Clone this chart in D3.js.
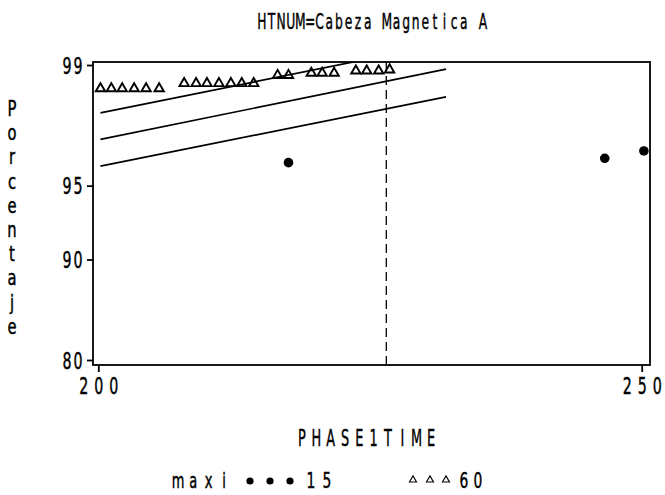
<!DOCTYPE html>
<html>
<head>
<meta charset="utf-8">
<script src="https://cdn.jsdelivr.net/npm/d3@7"></script>
<style>
  html, body { margin: 0; padding: 0; background: #fff; }
  svg { display: block; }
  text { font-family: "DejaVu Sans", "Liberation Sans", sans-serif; fill: #000; stroke: #000; stroke-width: 0.45; }
</style>
</head>
<body>
<svg id="chart" width="665" height="495"></svg>
<script>
// ---- data ----
const titleText = "HTNUM=Cabeza Magnetica A";
const xLabel = "PHASE1TIME";
const yLabel = "Porcentaje";

// maxi = 15 observations
const time15 = [217.5, 246.6, 250.2];
const pct15  = [96.13, 96.32, 96.63];

// maxi = 60 observations
const time60 = [200.2, 201.2, 202.2, 203.3, 204.4, 205.6,
                207.9, 209.0, 210.0, 211.1, 212.2, 213.2, 214.3,
                216.5, 217.5,
                219.6, 220.6, 221.7,
                223.7, 224.7, 225.8, 226.8];
const pct60  = [98.55, 98.55, 98.55, 98.55, 98.55, 98.55,
                98.66, 98.66, 98.66, 98.66, 98.66, 98.66, 98.66,
                98.82, 98.82,
                98.86, 98.86, 98.86,
                98.90, 98.90, 98.90, 98.92];

// fitted line and bounds (percent at both ends of the time span)
const fitTime  = [200.2, 232.0];
const upperPct = [97.94, 99.31];
const fitPct   = [97.08, 98.93];
const lowerPct = [95.97, 98.36];

const refTime = 226.5;             // vertical reference line
const xTicks = [200, 250];
const yTicks = [80, 90, 95, 99];
const legendTitle = "maxi";
const legendLabels = ["15", "60"];

// ---- layout ----
const svg = d3.select("#chart");
const frame = { left: 93, right: 650, top: 62, bottom: 365 };

// Weibull probability transform of a percentage
const weib = p => Math.log(-Math.log(1 - p / 100));

const x = d3.scaleLinear().domain([200, 250]).range([98.3, 641.7]);
const yT = d3.scaleLinear().domain([weib(80), weib(99)]).range([360, 65]);
const y = p => yT(weib(p));

// Draws a string one character at a time on an even pitch, each glyph
// narrowed horizontally (plotter-style lettering).
function charText(parent, str, c0, c1, baseline, size, sx) {
  const n = str.length;
  const step = n > 1 ? (c1 - c0) / (n - 1) : 0;
  const g = parent.append("g");
  str.split("").forEach((ch, i) => {
    if (ch === " ") return;
    g.append("text")
      .attr("transform", `translate(${c0 + i * step},${baseline}) scale(${sx},1)`)
      .attr("text-anchor", "middle")
      .attr("font-size", size)
      .text(ch);
  });
  return g;
}

// title
charText(svg, titleText, 262, 483, 29, 22, 0.56);

// clip region for the plot area
svg.append("defs").append("clipPath").attr("id", "plotClip")
  .append("rect")
  .attr("x", frame.left).attr("y", frame.top)
  .attr("width", frame.right - frame.left)
  .attr("height", frame.bottom - frame.top);

// frame
svg.append("rect")
  .attr("x", frame.left).attr("y", frame.top)
  .attr("width", frame.right - frame.left)
  .attr("height", frame.bottom - frame.top)
  .attr("fill", "none").attr("stroke", "#000").attr("stroke-width", 1.8);

// y axis (probability scale)
const yAxis = d3.axisLeft(yT)
  .tickValues(yTicks.map(weib))
  .tickFormat((d, i) => String(yTicks[i]))
  .tickSize(6).tickSizeOuter(0);
const gy = svg.append("g").attr("transform", `translate(${frame.left},0)`).call(yAxis);
gy.select(".domain").remove();
gy.selectAll("line").attr("stroke", "#000").attr("stroke-width", 1.8);
gy.selectAll(".tick").each(function () {
  const t = d3.select(this);
  const label = t.select("text").text();
  t.select("text").remove();
  charText(t, label, -26, -15, 8, 23, 0.62);
});

// x axis
const xAxis = d3.axisBottom(x).tickValues(xTicks).tickFormat(d3.format("d"))
  .tickSize(7).tickSizeOuter(0);
const gx = svg.append("g").attr("transform", `translate(0,${frame.bottom})`).call(xAxis);
gx.select(".domain").remove();
gx.selectAll("line").attr("stroke", "#000").attr("stroke-width", 1.8);
gx.selectAll(".tick").each(function () {
  const t = d3.select(this);
  const label = t.select("text").text();
  t.select("text").remove();
  charText(t, label, -15, 15, 29, 23, 0.62);
});

// axis titles
charText(svg, xLabel, 302, 431, 446, 23, 0.56);

const ylg = svg.append("g");
yLabel.split("").forEach((ch, i) => {
  charText(ylg, ch, 12, 12, 116 + i * 24.2, 20.5, 0.72);
});

const plot = svg.append("g").attr("clip-path", "url(#plotClip)");

// reference line
plot.append("line")
  .attr("x1", x(refTime)).attr("x2", x(refTime))
  .attr("y1", frame.top).attr("y2", frame.bottom)
  .attr("stroke", "#000").attr("stroke-width", 1.3)
  .attr("stroke-dasharray", "9,5");

// fitted line and bounds
const line = d3.line().x(d => x(d[0])).y(d => y(d[1]));
[upperPct, fitPct, lowerPct].forEach(arr => {
  plot.append("path")
    .attr("d", line(fitTime.map((t, i) => [t, arr[i]])))
    .attr("fill", "none").attr("stroke", "#000").attr("stroke-width", 1.7);
});

// triangles (maxi = 60)
const tri = d3.symbol().type(d3.symbolTriangle).size(38);
plot.selectAll(".tri")
  .data(time60.map((t, i) => [t, pct60[i]]))
  .join("path")
  .attr("class", "tri")
  .attr("d", tri)
  .attr("transform", d => `translate(${x(d[0])},${y(d[1])})`)
  .attr("fill", "none").attr("stroke", "#000").attr("stroke-width", 1.9);

// dots (maxi = 15)
svg.selectAll(".dot")
  .data(time15.map((t, i) => [t, pct15[i]]))
  .join("circle")
  .attr("class", "dot")
  .attr("cx", d => x(d[0])).attr("cy", d => y(d[1]))
  .attr("r", 4.8).attr("fill", "#000");

// legend
const lg = svg.append("g");
charText(lg, legendTitle, 178, 224, 488, 21, 0.62);
[250, 270, 290].forEach(cx => lg.append("circle")
  .attr("cx", cx).attr("cy", 481).attr("r", 3.6).attr("fill", "#000"));
charText(lg, legendLabels[0], 311, 327, 488, 21, 0.66);
const triSmall = d3.symbol().type(d3.symbolTriangle).size(22);
[413, 430, 446].forEach(cx => lg.append("path")
  .attr("d", triSmall).attr("transform", `translate(${cx},480)`)
  .attr("fill", "none").attr("stroke", "#000").attr("stroke-width", 1.1));
charText(lg, legendLabels[1], 464, 478, 488, 21, 0.66);
</script>
</body>
</html>
